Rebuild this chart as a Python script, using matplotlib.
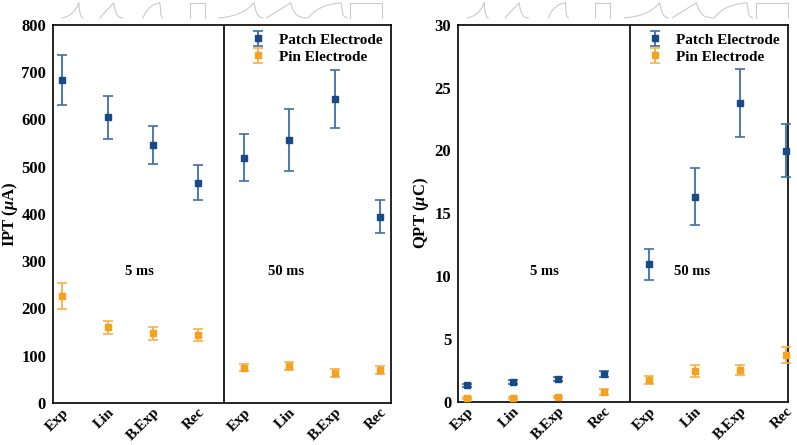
import numpy as np
import matplotlib
matplotlib.use("Agg")
import matplotlib.pyplot as plt
import matplotlib.transforms as mtransforms

plt.rcParams['font.family'] = ['Liberation Serif', 'DejaVu Serif']
plt.rcParams['font.weight'] = 'bold'
plt.rcParams['mathtext.fontset'] = 'custom'
plt.rcParams['mathtext.rm'] = 'Liberation Serif:bold'
plt.rcParams['mathtext.it'] = 'Liberation Serif:italic:bold'
plt.rcParams['mathtext.bf'] = 'Liberation Serif:bold'

categories = ["Exp", "Lin", "B.Exp", "Rec", "Exp", "Lin", "B.Exp", "Rec"]

# IPT (uA)
ipt_patch = [683, 604, 546, 466, 519, 556, 643, 394]
ipt_patch_err = [53, 46, 40, 37, 50, 65, 61, 35]
ipt_pin = [226, 160, 147, 144, 75, 78, 64, 70]
ipt_pin_err = [28, 14, 13, 13, 8, 9, 8, 9]

# QPT (uC)
qpt_patch = [1.32, 1.58, 1.85, 2.19, 10.95, 16.33, 23.8, 19.98]
qpt_patch_err = [0.15, 0.15, 0.17, 0.24, 1.23, 2.25, 2.7, 2.1]
qpt_pin = [0.29, 0.29, 0.40, 0.77, 1.74, 2.43, 2.53, 3.74]
qpt_pin_err = [0.08, 0.08, 0.1, 0.24, 0.31, 0.48, 0.42, 0.6]

patch_marker = "#174a86"
patch_line = "#3d70a8"
pin_marker = "#f5a21e"
pin_line = "#f6b04a"

fig = plt.figure(figsize=(7.97, 4.45), dpi=100)
ax1 = fig.add_axes([0.0665, 0.0944, 0.424, 0.850])
ax2 = fig.add_axes([0.575, 0.0966, 0.414, 0.848])

x = np.arange(len(categories))


def icon_shapes():
    r = np.linspace(0, 1, 40)
    f = np.linspace(0, 1, 20)

    def exp_rise(r, k=3):
        return (np.exp(k * r) - 1) / (np.exp(k) - 1)

    def decay(f, k=4):
        return np.exp(-k * f) * (1 - f)
    xe = np.concatenate([0.8 * r, 0.8 + 0.2 * f])
    ye = np.concatenate([exp_rise(r, 2.5), decay(f, 2.5)])
    lin_x = np.concatenate([0.6 * r, 0.6 + 0.4 * f])
    lin_y = np.concatenate([r, decay(f, 3)])
    bx = np.concatenate([0.85 * r, [0.85, 0.9, 1.0]])
    by = np.concatenate([1 - np.exp(-2.5 * r), [(1 - np.exp(-2.5)), 0.15, 0.0]])
    by = by / by.max()
    rx = np.array([0, 0, 1, 1])
    ry = np.array([0, 1, 1, 0])
    return [(xe, ye), (lin_x, lin_y), (bx, by), (rx, ry)]


def draw_icons(ax):
    shapes = icon_shapes()
    trans = mtransforms.blended_transform_factory(ax.transData, ax.transAxes)
    short = [(0.0, 0.46), (0.83, 1.34), (1.78, 2.22), (2.81, 3.14)]
    long_ = [(3.45, 4.42), (4.5, 5.39), (5.42, 6.27), (6.34, 7.04)]
    y0, y1 = 1.018, 1.058
    for (a, b), (sx, sy) in zip(short + long_, shapes + shapes):
        ax.plot(a + (b - a) * sx, y0 + (y1 - y0) * sy, color="#cacaca",
                lw=0.8, transform=trans, clip_on=False)


def panel(ax, patch, perr, pin, pinerr, ylim, yticks, ylabel, txt_y, xmax, lab_x):
    for vals, errs, mc, lc, lab in [(patch, perr, patch_marker, patch_line, "Patch Electrode"),
                                     (pin, pinerr, pin_marker, pin_line, "Pin Electrode")]:
        cont = ax.errorbar(x, vals, yerr=errs, fmt='s', ms=4.2, color=mc,
                           ecolor=lc, elinewidth=1.3, capsize=3.5, capthick=1.2,
                           label=lab, zorder=3)
        for art in cont.get_children():
            art.set_clip_on(False)
    ax.axvline(3.57, color='black', lw=1.2)
    ax.set_xlim(-0.2, xmax)
    ax.set_ylim(*ylim)
    ax.set_yticks(yticks)
    ax.set_xticks(x)
    ax.set_xticklabels(categories, rotation=45, ha='right',
                       rotation_mode='anchor', fontsize=11, fontweight='bold')
    ax.tick_params(axis='y', length=0, labelsize=12, pad=5)
    ax.tick_params(axis='x', length=0, pad=2)
    for lbl in ax.get_yticklabels():
        lbl.set_fontweight('bold')
    ax.set_ylabel(ylabel, fontsize=12, fontweight='bold')
    ax.yaxis.set_label_coords(lab_x, 0.5)
    for s in ax.spines.values():
        s.set_linewidth(1.2)
        s.set_color('black')
    ax.text(1.7, txt_y, "5 ms", fontsize=10.5, fontweight='bold',
            ha='center', va='center')
    ax.text(4.93, txt_y, "50 ms", fontsize=10.5, fontweight='bold',
            ha='center', va='center')
    ax.legend(loc='upper right', frameon=False,
              handletextpad=0.6, borderaxespad=0.15, labelspacing=0.2,
              handlelength=1.6, prop={'weight': 'bold', 'size': 11})
    draw_icons(ax)


panel(ax1, ipt_patch, ipt_patch_err, ipt_pin, ipt_pin_err, (0, 800),
      np.arange(0, 801, 100), r"IPT ($\mu$A)", 279, 7.24, -0.097)
panel(ax2, qpt_patch, qpt_patch_err, qpt_pin, qpt_pin_err, (0, 30),
      np.arange(0, 31, 5), r"QPT ($\mu$C)", 10.4, 7.05, -0.083)

fig.savefig("out.png", dpi=100)
